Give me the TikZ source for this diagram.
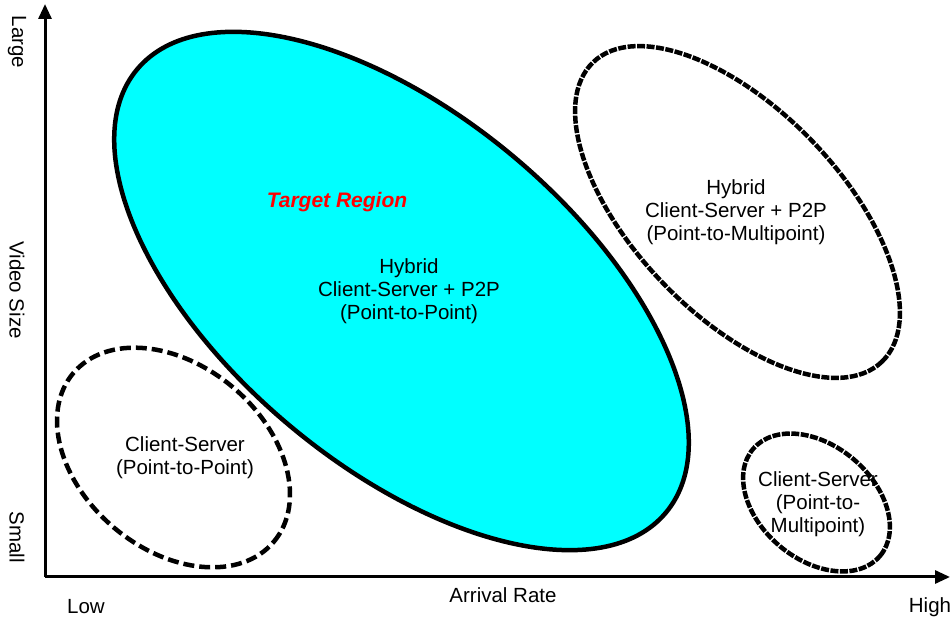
\documentclass[tikz,border=0pt]{standalone}
\usepackage{fontspec}
\setmainfont{Liberation Sans}
\usetikzlibrary{arrows.meta}
\definecolor{aqua}{RGB}{0,255,255}
\tikzset{
    axis/.style={line width=3pt,-{Triangle[length=15pt,width=13pt]}},
    region/.style={line width=4.5pt},
    dashregion/.style={line width=4.5pt,dash pattern=on 11pt off 5pt},
    roughregion/.style={line width=4.5pt,dash pattern=on 8pt off 1.5pt},
    lbl/.style={align=center,font=\fontsize{20.5}{23}\selectfont,inner sep=0pt}
}
\begin{document}
\begin{tikzpicture}[x=1pt,y=1pt]
            \useasboundingbox (0,0) rectangle (951,621);
            \coordinate (O) at (45,44);
            \coordinate (T) at (401.5,330);
            \coordinate (P) at (173.5,163.5);
            \coordinate (M) at (737.5,409);
            \coordinate (Q) at (816.5,118.5);
            \draw[axis] (O)--(45,617);
            \draw[axis] (O)--(950,44);
            \filldraw[region,fill=aqua,rotate around={-40:(T)}]
                (T) ellipse[x radius=345,y radius=175];
            \node[lbl,rotate=-90] (large) at (17,579) {Large};
            \node[lbl,rotate=-90] (size) at (17,331) {Video Size};
            \node[lbl,rotate=-90] (small) at (17,84) {Small};
            \node[lbl] (low) at (86,14) {Low};
            \node[lbl] (rate) at (503,26) {Arrival Rate};
            \node[lbl] (high) at (930,14) {High};
            \node[lbl,text=red,font=\fontsize{21}{23}\selectfont\bfseries\itshape]
                (target) at (337,419) {Target Region};
            \node[lbl] (ptp) at (409,330) {Hybrid\\Client-Server + P2P\\(Point-to-Point)};
            \node[lbl] (ptm) at (736,409) {Hybrid\\Client-Server + P2P\\(Point-to-Multipoint)};
            \node[lbl] (cs) at (185,163) {Client-Server\\(Point-to-Point)};
            \node[lbl] (csm) at (818,117) {Client-Server\\(Point-to-\\Multipoint)};
            \draw[dashregion,rotate around={-40:(P)}]
                (P) ellipse[x radius=131,y radius=92];
            \draw[roughregion,rotate around={-46:(M)}]
                (M) ellipse[x radius=208,y radius=103];
            \draw[roughregion,rotate around={-40:(Q)}]
                (Q) ellipse[x radius=83,y radius=57];
        \end{tikzpicture}
\end{document}
